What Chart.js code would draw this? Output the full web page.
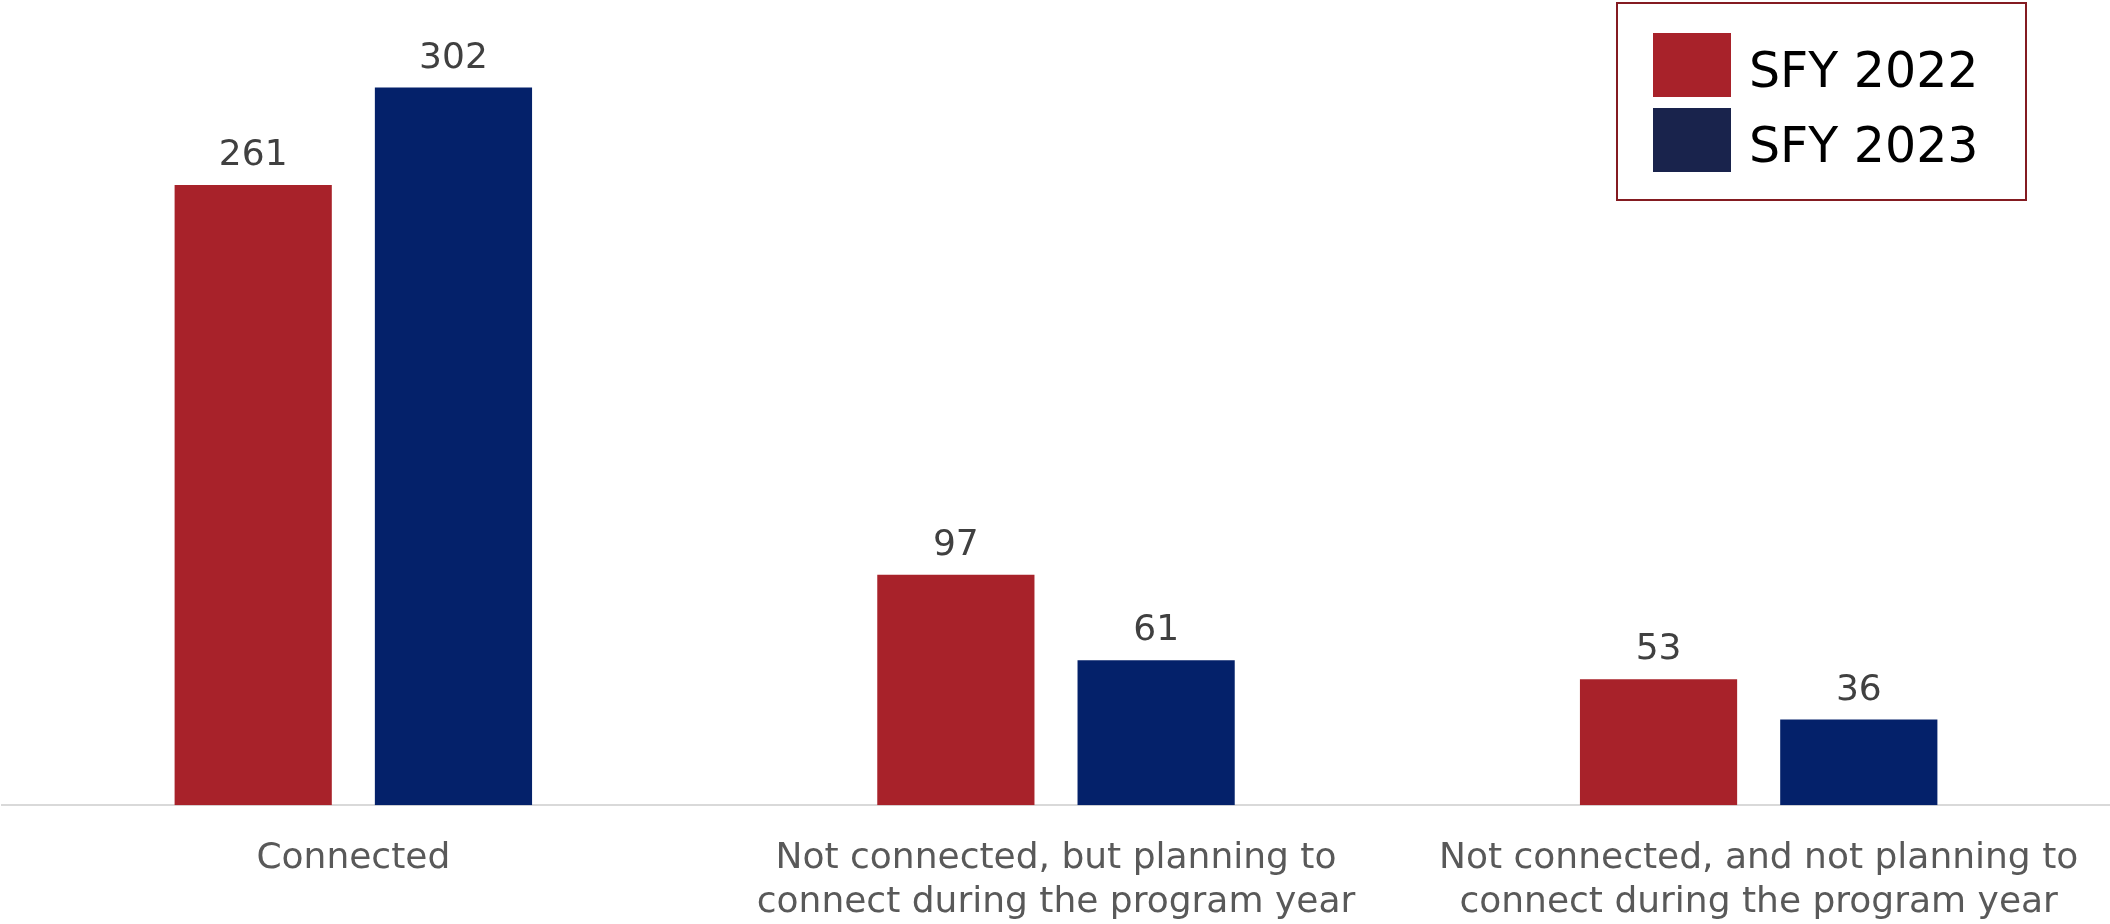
<!DOCTYPE html>
<html>
<head>
<meta charset="utf-8">
<script src="https://cdn.jsdelivr.net/npm/chart.js@4"></script>
<style>
  body{margin:0;background:#fff;}
  canvas{display:block;}
</style>
</head>
<body>
<canvas id="connChart" width="2110" height="924"></canvas>
<script>
/* <><><><><><><><><Data><><><><><><><><> */
let categories = [
    'Connected',
    ['Not connected, but planning to', 'connect during the program year'],
    ['Not connected, and not planning to', 'connect during the program year']
]
let seriesNames = ['SFY 2022', 'SFY 2023']
let sfy2022 = [261, 97, 53]
let sfy2023 = [302, 61, 36]

let barColors = ['#a8222a', '#04216a']
let legendColors = ['#a8222a', '#19234c']
let fontFamily = '"DejaVu Sans", Verdana, sans-serif'

/* <><><><><><><><><Value labels above bars><><><><><><><><> */
let valueLabels = {
    id: 'valueLabels',
    afterDatasetsDraw(chart) {
        let ctx = chart.ctx
        ctx.save()
        ctx.font = '36px ' + fontFamily
        ctx.fillStyle = '#404040'
        ctx.textAlign = 'center'
        ctx.textBaseline = 'alphabetic'
        chart.data.datasets.forEach((ds, i) => {
            chart.getDatasetMeta(i).data.forEach((bar, j) => {
                ctx.fillText(ds.data[j], bar.x, bar.y - 20)
            })
        })
        ctx.restore()
    }
}

/* <><><><><><><><><Boxed legend, top right><><><><><><><><> */
let boxedLegend = {
    id: 'boxedLegend',
    afterDraw(chart) {
        let ctx = chart.ctx
        let left = chart.width - 493
        let top = 3
        ctx.save()
        ctx.strokeStyle = '#841b21'
        ctx.lineWidth = 2
        ctx.strokeRect(left, top, 409, 197)
        ctx.font = '49px ' + fontFamily
        ctx.textBaseline = 'alphabetic'
        ctx.textAlign = 'left'
        chart.data.datasets.forEach((ds, i) => {
            let y = top + 30 + i * 75
            ctx.fillStyle = legendColors[i]
            ctx.fillRect(left + 36, y, 78, 64)
            ctx.fillStyle = '#000'
            ctx.fillText(ds.label, left + 132, y + 54)
        })
        ctx.restore()
    }
}

/* <><><><><><><><><Chart><><><><><><><><> */
let chart = new Chart(document.getElementById('connChart'), {
    type: 'bar',
    data: {
        labels: categories,
        datasets: [
            { label: seriesNames[0], data: sfy2022, backgroundColor: barColors[0] },
            { label: seriesNames[1], data: sfy2023, backgroundColor: barColors[1] }
        ]
    },
    options: {
        responsive: false,
        animation: false,
        // bottom padding pulls the axis down so the two-line labels sit close to the page edge
        layout: { padding: { top: 2, left: 2, right: -3, bottom: -25 } },
        categoryPercentage: 0.57,
        barPercentage: 0.785,
        plugins: {
            legend: { display: false },
            tooltip: { enabled: false }
        },
        scales: {
            x: {
                grid: { display: false },
                border: { display: true, color: '#d9d9d9', width: 2 },
                ticks: {
                    color: '#595959',
                    padding: 24,
                    maxRotation: 0,
                    autoSkip: false,
                    font: { family: fontFamily, size: 36, lineHeight: 1.22 }
                }
            },
            y: {
                display: false,
                min: 0,
                max: 338
            }
        }
    },
    plugins: [valueLabels, boxedLegend]
})
</script>
</body>
</html>
